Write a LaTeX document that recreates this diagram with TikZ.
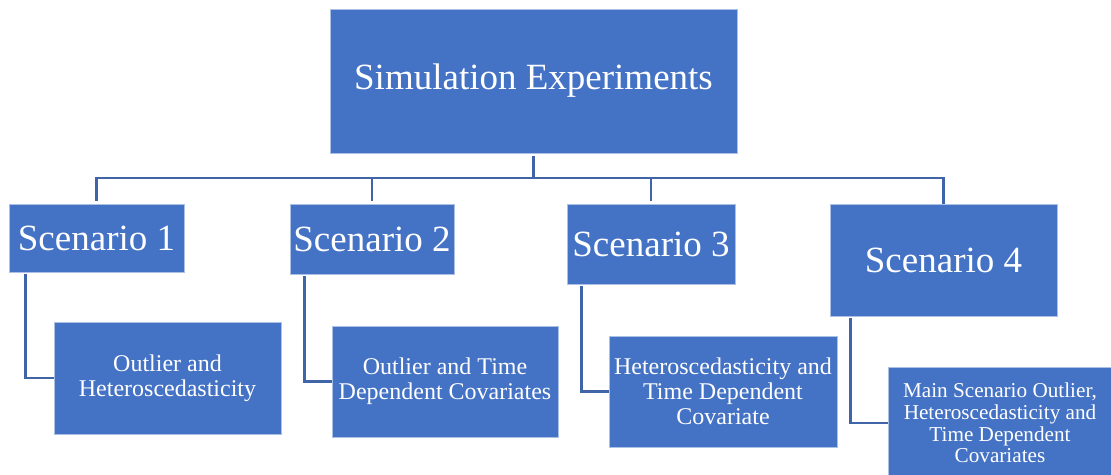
\documentclass[tikz,border=0pt]{standalone}
\usepackage{fontspec}
\setmainfont{Liberation Serif}
\definecolor{boxblue}{HTML}{4472C4}
\definecolor{lineblue}{HTML}{3F64A8}
\tikzset{
  box/.style={fill=boxblue, draw=boxblue!45!white, line width=0.8pt,
    text=white, align=center, inner sep=0pt},
  conn/.style={draw=lineblue, line width=2.6pt},
  bigtext/.style={font=\fontsize{37}{44}\selectfont},
  midtext/.style={font=\fontsize{37}{43}\selectfont},
  smalltext/.style={font=\fontsize{24}{25}\selectfont},
  tinytext/.style={font=\fontsize{21.2}{21.7}\selectfont},
}
\begin{document}
\begin{tikzpicture}[x=1pt, y=-1pt]
\useasboundingbox (0,0) rectangle (1111,474);
\clip (0,0) rectangle (1111,474);

% root
\node[box, bigtext, minimum width=407pt, minimum height=144pt] (top) at (533.5,81) {Simulation Experiments};

% scenarios
\node[box, midtext, minimum width=175pt, minimum height=68pt] (s1) at (96.5,238) {Scenario 1};
\node[box, midtext, minimum width=164pt, minimum height=70pt] (s2) at (372,239) {Scenario 2};
\node[box, midtext, minimum width=168pt, minimum height=80pt] (s3) at (651,244) {Scenario 3};
\node[box, midtext, minimum width=227pt, minimum height=112pt] (s4) at (943.5,260) {Scenario 4};

% details
\node[box, smalltext, minimum width=227pt, minimum height=112pt] (b1) at (167.5,378) {Outlier and\\Heteroscedasticity};
\node[box, smalltext, minimum width=226pt, minimum height=111pt] (b2) at (445,381.5) {Outlier and Time\\Dependent Covariates};
\node[box, smalltext, minimum width=228pt, minimum height=111pt] (b3) at (723,391.5) {Heteroscedasticity and\\Time Dependent\\Covariate};
\node[box, tinytext, minimum width=224pt, minimum height=112pt] (b4) at (1000,423) {Main Scenario Outlier,\\Heteroscedasticity and\\Time Dependent\\Covariates};

% bus line of the tree
\coordinate (bus) at (533.5,178);
\draw[conn, shorten <=3pt] (top.south) -- (top.south |- bus);
\draw[conn, shorten <=3pt, line join=miter] (s1.north) -- (s1.north |- bus) -- (s4.north |- bus) -- (s4.north);
\draw[conn, shorten <=3pt] (s2.north) -- (s2.north |- bus);
\draw[conn, shorten <=3pt] (s3.north) -- (s3.north |- bus);

% elbows from each scenario to its detail box
\draw[conn, shorten <=2pt, line join=miter] ([xshift=17pt]s1.south west) |- (b1.west);
\draw[conn, shorten <=2pt, line join=miter] ([xshift=15pt]s2.south west) |- (b2.west);
\draw[conn, shorten <=2pt, line join=miter] ([xshift=15pt]s3.south west) |- (b3.west);
\draw[conn, shorten <=2pt, line join=miter] ([xshift=21pt]s4.south west) |- (b4.west);
\end{tikzpicture}
\end{document}
